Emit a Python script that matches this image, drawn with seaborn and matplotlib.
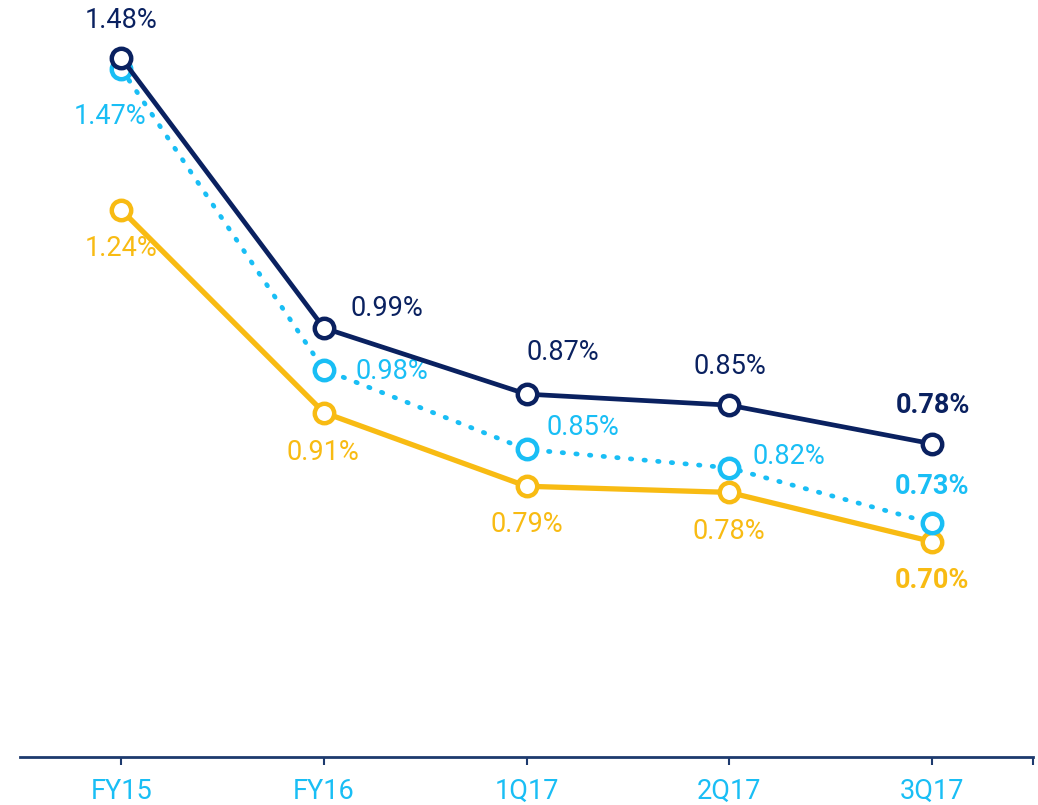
import seaborn as sns
import pandas as pd
import matplotlib.pyplot as plt

sns.set_theme(style="white")
plt.rcParams['font.family'] = ['Roboto', 'DejaVu Sans']

periods = ["FY15", "FY16", "1Q17", "2Q17", "3Q17"]
navy_vals = [1.48, 0.99, 0.87, 0.85, 0.78]
light_vals = [1.47, 0.98, 0.85, 0.82, 0.73]
yellow_vals = [1.24, 0.91, 0.79, 0.78, 0.70]

NAVY = "#0A2160"
LIGHT = "#19BEF5"
YELLOW = "#F8BB13"

df = pd.DataFrame({"period": periods, "navy": navy_vals,
                   "light": light_vals, "yellow": yellow_vals})
df["x"] = range(len(df))

fig = plt.figure(figsize=(10.38, 8.05), dpi=100)
ax = fig.add_axes([20 / 1038, 48 / 805, 1013 / 1038, 757 / 805])
ax2 = ax.twinx()

# light blue + yellow on the main axis
sns.lineplot(data=df, x="x", y="yellow", ax=ax, color=YELLOW, lw=3.8,
             marker="o", markersize=14, markerfacecolor="white",
             markeredgecolor=YELLOW, markeredgewidth=3.2, zorder=3)
sns.lineplot(data=df, x="x", y="light", ax=ax, color=LIGHT, lw=3.4,
             linestyle=(0, (0.3, 2.6)), dash_capstyle="round",
             marker="o", markersize=14, markerfacecolor="white",
             markeredgecolor=LIGHT, markeredgewidth=3.2, zorder=4)
# navy on the twin axis
sns.lineplot(data=df, x="x", y="navy", ax=ax2, color=NAVY, lw=3.4,
             marker="o", markersize=14, markerfacecolor="white",
             markeredgecolor=NAVY, markeredgewidth=3.2, zorder=5)

ax.set_ylim(0.349, 1.582)
ax2.set_ylim(0.2114, 1.5853)
ax.set_xlim(-0.5, 4.5)
ax2.set_xlim(-0.5, 4.5)

navy_off = [(0, 38), (63, 20), (36, 42), (1, 39), (1, 38)]
light_off = [(-11, -48), (68, -2), (56, 22), (60, 11), (0, 37)]
yellow_off = [(0, -39), (-1, -40), (0, -38), (0, -39), (0, -39)]

FS = 19.5
for i in range(len(periods)):
    last = i == len(periods) - 1
    w = "bold" if last else "normal"
    ax2.annotate(f"{navy_vals[i]:.2f}%", (i, navy_vals[i]), xytext=navy_off[i],
                 textcoords="offset pixels", ha="center", va="center",
                 fontsize=FS, color=NAVY, fontweight=w)
    ax.annotate(f"{light_vals[i]:.2f}%", (i, light_vals[i]), xytext=light_off[i],
                textcoords="offset pixels", ha="center", va="center",
                fontsize=FS, color=LIGHT, fontweight=w)
    ax.annotate(f"{yellow_vals[i]:.2f}%", (i, yellow_vals[i]), xytext=yellow_off[i],
                textcoords="offset pixels", ha="center", va="center",
                fontsize=FS, color=YELLOW, fontweight=w)

for a in (ax, ax2):
    for s in ["top", "right", "left"]:
        a.spines[s].set_visible(False)
    a.set_ylabel("")
    a.set_xlabel("")
    a.set_yticks([])
ax2.spines["bottom"].set_visible(False)
ax2.set_xticks([])

ax.spines["bottom"].set_color("#1D3A6E")
ax.spines["bottom"].set_linewidth(2)
ax.set_xticks(range(len(periods)))
ax.set_xticks([4.5], minor=True)
ax.set_xticklabels(periods, fontsize=FS, color=LIGHT)
ax.tick_params(axis="x", which="both", bottom=True, length=6, width=1.5,
               color="#1D3A6E", pad=9)
ax.patch.set_alpha(0)

fig.savefig("out.png", dpi=100)
